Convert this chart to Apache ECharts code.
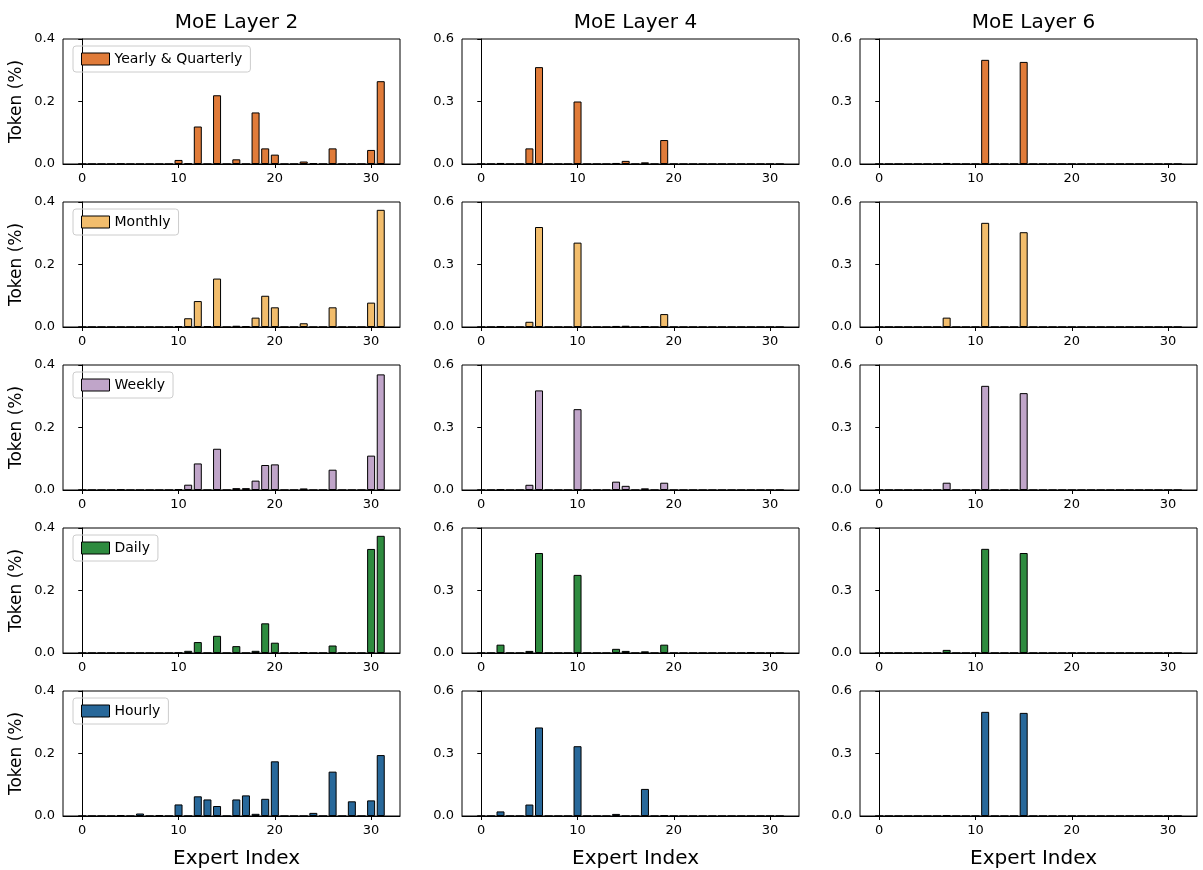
<!DOCTYPE html>
<html>
<head>
<meta charset="utf-8">
<script src="https://cdn.jsdelivr.net/npm/echarts@6/dist/echarts.min.js"></script>
<style>html,body{margin:0;padding:0;background:#fff}#main{width:1203px;height:870px}</style>
</head>
<body>
<div id="main"></div>
<script>
// 频率类别与颜色
const freqNames = ['Yearly & Quarterly', 'Monthly', 'Weekly', 'Daily', 'Hourly']
const freqColors = ['#e07b39', '#f2bd6c', '#c0a5c9', '#2e8b3f', '#28689a']
const layerTitles = ['MoE Layer 2', 'MoE Layer 4', 'MoE Layer 6']
const experts = Array.from({ length: 32 }, (_, i) => i)
const xTicks = [0, 10, 20, 30]

// 每层每类的专家 token 占比（稀疏：expert -> value）
const layer2 = [
  { 4: 0.001, 10: 0.013, 11: 0.002, 12: 0.12, 14: 0.22, 16: 0.015, 18: 0.165, 19: 0.05, 20: 0.03, 23: 0.008, 24: 0.003, 26: 0.05, 30: 0.045, 31: 0.265 },
  { 10: 0.003, 11: 0.028, 12: 0.083, 13: 0.003, 14: 0.155, 16: 0.004, 17: 0.003, 18: 0.03, 19: 0.1, 20: 0.063, 23: 0.012, 26: 0.063, 30: 0.078, 31: 0.375 },
  { 4: 0.002, 10: 0.003, 11: 0.017, 12: 0.085, 14: 0.132, 16: 0.006, 17: 0.006, 18: 0.03, 19: 0.08, 20: 0.082, 23: 0.005, 26: 0.065, 30: 0.11, 31: 0.37 },
  { 10: 0.001, 11: 0.007, 12: 0.035, 14: 0.055, 16: 0.022, 18: 0.007, 19: 0.095, 20: 0.033, 23: 0.003, 26: 0.024, 30: 0.333, 31: 0.375 },
  { 4: 0.003, 6: 0.008, 8: 0.003, 10: 0.037, 12: 0.063, 13: 0.053, 14: 0.032, 16: 0.053, 17: 0.066, 18: 0.007, 19: 0.055, 20: 0.175, 24: 0.01, 26: 0.142, 28: 0.047, 30: 0.05, 31: 0.195 }
]
const layer4 = [
  { 2: 0.005, 5: 0.075, 6: 0.465, 10: 0.3, 14: 0.005, 15: 0.015, 17: 0.008, 19: 0.115 },
  { 2: 0.003, 5: 0.025, 6: 0.48, 10: 0.405, 14: 0.005, 15: 0.006, 17: 0.004, 19: 0.062 },
  { 2: 0.003, 5: 0.025, 6: 0.478, 10: 0.388, 14: 0.04, 15: 0.02, 17: 0.008, 19: 0.035 },
  { 2: 0.04, 5: 0.01, 6: 0.48, 10: 0.375, 14: 0.02, 15: 0.01, 17: 0.008, 19: 0.04, 28: 0.003 },
  { 2: 0.022, 5: 0.055, 6: 0.425, 10: 0.335, 14: 0.01, 17: 0.13, 19: 0.003 }
]
const layer6 = [
  { 7: 0.005, 11: 0.5, 15: 0.49 },
  { 7: 0.045, 11: 0.5, 15: 0.455 },
  { 7: 0.035, 11: 0.5, 15: 0.465 },
  { 7: 0.015, 11: 0.5, 15: 0.48 },
  { 7: 0.003, 11: 0.5, 15: 0.495 }
]
const layers = [layer2, layer4, layer6]
const yMax = [0.4, 0.6, 0.6]
const yStep = [0.2, 0.3, 0.3]

const colLeft = [63, 462, 860]
const rowTop = [39, 202, 365, 528, 691]
const gw = 337, gh = 125

const myChart = echarts.init(document.getElementById('main'))
let grid = [], xAxis = [], yAxis = [], series = [], legend = [], title = []

layerTitles.forEach((t, c) => {
  title.push({ text: t, left: colLeft[c] + gw / 2, top: 8, textAlign: 'center',
    textStyle: { fontSize: 20, fontWeight: 'normal', color: '#000', fontFamily: 'DejaVu Sans' } })
  title.push({ text: 'Expert Index', left: colLeft[c] + gw / 2, top: 844, textAlign: 'center',
    textStyle: { fontSize: 20, fontWeight: 'normal', color: '#000', fontFamily: 'DejaVu Sans' } })
})

for (let r = 0; r < 5; r++) {
  for (let c = 0; c < 3; c++) {
    const k = grid.length
    grid.push({ left: colLeft[c], top: rowTop[r], width: gw, height: gh, show: true, borderColor: '#000', borderWidth: 1 })
    xAxis.push({
      type: 'value', gridIndex: k, min: -2, max: 33, splitLine: { show: false },
      axisLine: { onZero: false, lineStyle: { color: '#000' } },
      axisTick: { customValues: xTicks, length: 4, lineStyle: { color: '#000' } },
      axisLabel: { customValues: xTicks, color: '#000', fontSize: 13, fontFamily: 'DejaVu Sans', margin: 8 }
    })
    yAxis.push({
      type: 'value', gridIndex: k, min: 0, max: yMax[c], interval: yStep[c], splitLine: { show: false },
      name: c === 0 ? 'Token (%)' : '', nameLocation: 'middle', nameGap: 38,
      nameTextStyle: { fontSize: 17, color: '#000', fontFamily: 'DejaVu Sans' },
      axisLine: { show: true, lineStyle: { color: '#000' } },
      axisTick: { show: true, length: 4, lineStyle: { color: '#000' } },
      axisLabel: { color: '#000', fontSize: 13, fontFamily: 'DejaVu Sans', formatter: v => v.toFixed(1) }
    })
    const vals = layers[c][r]
    series.push({
      name: freqNames[r], type: 'bar', xAxisIndex: k, yAxisIndex: k, barWidth: 8, animation: false,
      itemStyle: { color: freqColors[r], borderColor: '#000', borderWidth: 1 },
      data: experts.map(i => [i, vals[i] || 0])
    })
  }
  legend.push({
    data: [freqNames[r]], left: colLeft[0] + 10, top: rowTop[r] + 7, orient: 'vertical',
    icon: 'rect', itemWidth: 28, itemHeight: 12, itemGap: 4, selectedMode: false,
    borderColor: '#ccc', borderWidth: 1, borderRadius: 3, padding: [6, 8],
    itemStyle: { borderColor: '#000', borderWidth: 1 },
    textStyle: { fontSize: 14, color: '#000', fontFamily: 'DejaVu Sans' }
  })
}

myChart.setOption({ animation: false, title, grid, xAxis, yAxis, series, legend })
</script>
</body>
</html>
